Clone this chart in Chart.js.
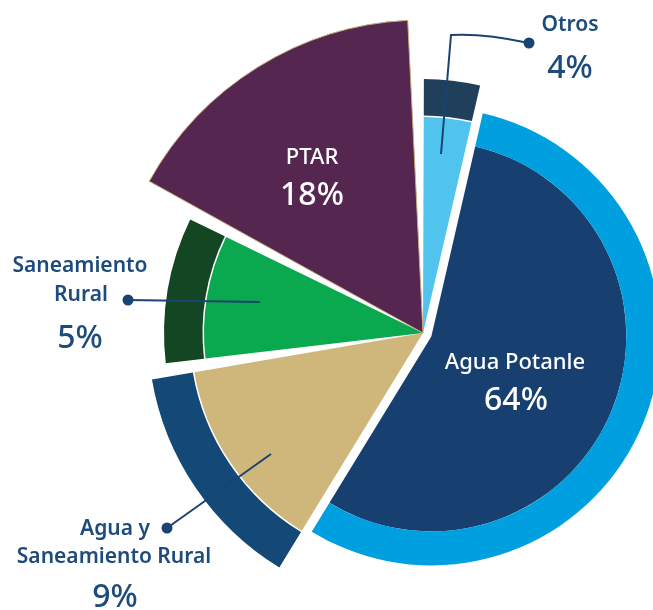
<!DOCTYPE html>
<html><head><meta charset="utf-8">
<script src="https://cdn.jsdelivr.net/npm/chart.js@4/dist/chart.umd.min.js"></script>
<style>html,body{margin:0;padding:0;background:#fff;}#wrap{width:653px;height:610px;position:relative;}</style>
</head><body>
<div id="wrap"><canvas id="c" width="653" height="610"></canvas></div>
<script>
// ---- DATA ----
const categories = ['Otros', 'Agua Potanle', 'Agua y Saneamiento Rural', 'Saneamiento Rural', 'PTAR'];
// angular share of each slice as drawn in the picture (percent of the full circle)
const sliceShares = [3.97, 55.14, 13.97, 9.92, 17.0];
// percentages printed on the chart
const percentLabels = ['4%', '64%', '9%', '5%', '18%'];

// ---- STYLE ----
const innerColors = ['#50c4ef', '#173f70', '#cfb67b', '#0aa84f', '#552650'];
const ringColors  = ['#1f3f5b', '#00a0e0', '#144876', '#134622', 'rgba(0,0,0,0)'];
const innerR = [216, 195, 232, 219, 313];
const ringR  = [254, 229, 275, 259, 313];
const ringSep = [1.5, 0, 1.5, 1.5, 0];
const explode = [0, 9, 0, 0, 0];
const GAP = 3 * Math.PI / 180;
const TEXT = '#1d4b7c', LINE = '#1a4372';
const FONT = '"Noto Sans", "Open Sans", sans-serif';

const shapePlugin = {
  id: 'shape',
  afterDatasetsUpdate(chart) {
    const n = categories.length;
    [0, 1].forEach(ds => {
      chart.getDatasetMeta(ds).data.forEach((arc, i) => {
        const prev = (i - 1 + n) % n, next = (i + 1) % n;
        const gs = (explode[i] || explode[prev]) ? 0 : GAP / 2;
        const ge = (explode[i] || explode[next]) ? 0 : GAP / 2;
        const mid = (arc.startAngle + arc.endAngle) / 2;
        arc.x += Math.cos(mid) * explode[i];
        arc.y += Math.sin(mid) * explode[i];
        arc.startAngle += gs;
        arc.endAngle -= ge;
        arc.circumference = arc.endAngle - arc.startAngle;
        if (ds === 0) { arc.innerRadius = innerR[i] + ringSep[i]; arc.outerRadius = ringR[i]; }
        else { arc.innerRadius = 0; arc.outerRadius = innerR[i]; }
      });
    });
  }
};

const labelPlugin = {
  id: 'labels',
  afterDraw(chart) {
    const ctx = chart.ctx;
    const a = chart.chartArea;
    const cx = (a.left + a.right) / 2, cy = (a.top + a.bottom) / 2;
    ctx.save();
    ctx.textAlign = 'center';
    ctx.textBaseline = 'alphabetic';
    function txt(s, dx, dy, size, weight, color) {
      ctx.font = weight + ' ' + size + 'px ' + FONT;
      ctx.fillStyle = color;
      ctx.fillText(s, cx + dx, cy + dy);
    }
    function leader(pts) {
      ctx.strokeStyle = LINE; ctx.lineWidth = 2;
      ctx.beginPath();
      ctx.moveTo(cx + pts[0][0], cy + pts[0][1]);
      if (pts.length === 4) {
        ctx.quadraticCurveTo(cx + pts[1][0], cy + pts[1][1], cx + pts[2][0], cy + pts[2][1]);
        ctx.lineTo(cx + pts[3][0], cy + pts[3][1]);
      } else {
        ctx.lineTo(cx + pts[1][0], cy + pts[1][1]);
      }
      ctx.stroke();
      ctx.fillStyle = LINE;
      ctx.beginPath();
      ctx.arc(cx + pts[0][0], cy + pts[0][1], 5.5, 0, Math.PI * 2);
      ctx.fill();
    }
    // Otros
    leader([[106, -290], [60, -300], [28, -298], [18, -179]]);
    txt(categories[0], 147, -302, 21, 600, TEXT);
    txt(percentLabels[0], 147, -255, 32, 500, TEXT);
    // Saneamiento Rural
    leader([[-295, -33], [-163, -31]]);
    txt('Saneamiento', -343, 272 - 333, 21, 600, TEXT);
    txt('Rural', -342, 301 - 333, 21, 600, TEXT);
    txt(percentLabels[3], -343, 348 - 333, 32, 500, TEXT);
    // Agua y Saneamiento Rural
    leader([[-256, 195], [-152, 121]]);
    txt('Agua y', -308, 535 - 333, 21, 600, TEXT);
    txt('Saneamiento Rural', -309, 563 - 333, 21, 600, TEXT);
    txt(percentLabels[2], -308, 607 - 333, 32, 500, TEXT);
    // PTAR
    txt(categories[4], 312 - 423, 164 - 333, 22, 500, '#ffffff');
    txt(percentLabels[4], 312 - 423, 205 - 333, 32, 500, '#ffffff');
    // Agua Potanle
    txt(categories[1], 515 - 423, 369 - 333, 22, 500, '#ffffff');
    txt(percentLabels[1], 516 - 423, 410 - 333, 32, 500, '#ffffff');
    ctx.restore();
  }
};

new Chart(document.getElementById('c'), {
  type: 'pie',
  data: {
    labels: categories,
    datasets: [
      { data: sliceShares, backgroundColor: ringColors, borderWidth: 0, clip: false },
      { data: sliceShares, backgroundColor: innerColors, borderWidth: [0, 0, 0, 0, 1],
        borderColor: ['#fff', '#fff', '#fff', '#fff', '#c9ad7e'], clip: false }
    ]
  },
  options: {
    responsive: false,
    animation: false,
    rotation: -1.3,
    layout: { padding: { left: 193, top: 56, right: 0, bottom: 0 } },
    plugins: { legend: { display: false }, tooltip: { enabled: false } },
    events: []
  },
  plugins: [shapePlugin, labelPlugin]
});
</script>
</body></html>
